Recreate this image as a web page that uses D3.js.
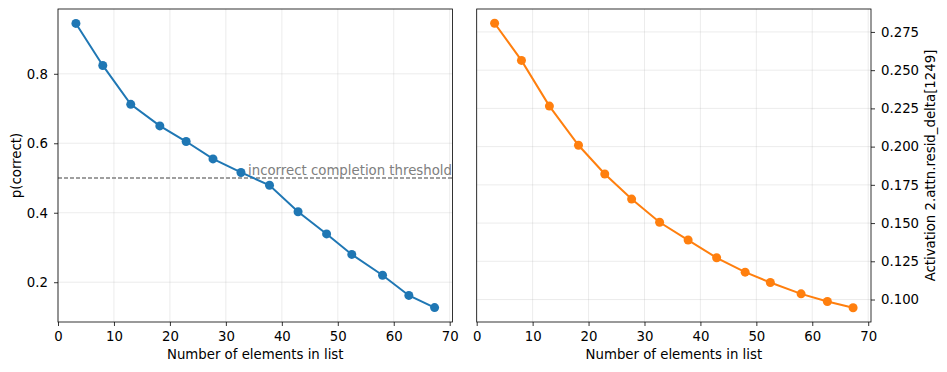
<!DOCTYPE html>
<head>
  <meta charset="utf-8">
  <script src="https://d3js.org/d3.v7.min.js"></script>
  <style>
    body { margin: 0; background: white; }
    text { font-family: "DejaVu Sans", sans-serif; fill: black; }
    .tick text { font-size: 13.3px; }
    .tick line { stroke: black; stroke-width: 0.8; }
    .grid line { stroke: #b0b0b0; stroke-opacity: 0.3; stroke-width: 0.8; }
  </style>
</head>
<body>
<script>
var listLengths = [3.2, 8.0, 13.0, 18.2, 22.9, 27.7, 32.7, 37.8, 42.9, 48.0, 52.5, 58.0, 62.7, 67.3];
var pCorrect = [0.945, 0.824, 0.712, 0.650, 0.605, 0.555, 0.516, 0.479, 0.403, 0.339, 0.280, 0.220, 0.162, 0.127];
var activation = [0.2807, 0.2564, 0.2265, 0.2009, 0.1821, 0.1657, 0.1505, 0.1389, 0.1273, 0.1179, 0.1111, 0.1037, 0.0987, 0.0946];
var xTicks = [0, 10, 20, 30, 40, 50, 60, 70];
var leftTicks = [0.2, 0.4, 0.6, 0.8];
var rightTicks = [0.100, 0.125, 0.150, 0.175, 0.200, 0.225, 0.250, 0.275];
var threshold = 0.5;

var width = 947, height = 372;
var svg = d3.select("body").append("svg")
    .attr("width", width)
    .attr("height", height);

function panel(opts) {
  var x = d3.scaleLinear().domain([0, 70.5]).range([opts.left, opts.right]);
  var y = d3.scaleLinear().domain(opts.yDomain).range([322, 9]);
  var g = svg.append("g");

  // grid
  var grid = g.append("g").attr("class", "grid");
  grid.selectAll(".gx").data(xTicks.filter(function(d) { return x(d) <= opts.right; }))
    .enter().append("line")
      .attr("x1", function(d) { return x(d); }).attr("x2", function(d) { return x(d); })
      .attr("y1", 9).attr("y2", 322);
  grid.selectAll(".gy").data(opts.yTicks)
    .enter().append("line")
      .attr("x1", opts.left).attr("x2", opts.right)
      .attr("y1", function(d) { return y(d); }).attr("y2", function(d) { return y(d); });

  if (opts.extra) opts.extra(g, x, y);

  var line = d3.line()
      .x(function(d, i) { return x(listLengths[i]); })
      .y(function(d) { return y(d); });
  g.append("path")
      .datum(opts.values)
      .attr("fill", "none")
      .attr("stroke", opts.color)
      .attr("stroke-width", 2)
      .attr("d", line);
  g.selectAll(".dot").data(opts.values)
    .enter().append("circle")
      .attr("cx", function(d, i) { return x(listLengths[i]); })
      .attr("cy", function(d) { return y(d); })
      .attr("r", 4.5)
      .attr("fill", opts.color);

  // axes
  g.append("g")
      .attr("transform", "translate(0,322)")
      .call(d3.axisBottom(x).tickValues(xTicks).tickFormat(d3.format("d")).tickSize(4).tickPadding(6))
      .call(function(a) { a.select(".domain").remove(); });
  var yAxis = opts.yRight
      ? d3.axisRight(y).tickValues(opts.yTicks).tickFormat(d3.format(".3f"))
      : d3.axisLeft(y).tickValues(opts.yTicks).tickFormat(d3.format(".1f"));
  g.append("g")
      .attr("transform", "translate(" + (opts.yRight ? opts.right : opts.left) + ",0)")
      .call(yAxis.tickSize(4).tickPadding(6))
      .call(function(a) { a.select(".domain").remove(); });

  g.append("rect")
      .attr("x", opts.left).attr("y", 9)
      .attr("width", opts.right - opts.left).attr("height", 313)
      .attr("fill", "none").attr("stroke", "black").attr("stroke-width", 0.8);

  g.append("text")
      .attr("x", (opts.left + opts.right) / 2).attr("y", 359)
      .attr("text-anchor", "middle").style("font-size", "13.3px")
      .text("Number of elements in list");

  g.append("text")
      .attr("transform", "translate(" + opts.labelX + "," + ((9 + 322) / 2) + ") rotate(-90)")
      .attr("text-anchor", "middle").style("font-size", "13.3px")
      .text(opts.yLabel);
}

panel({
  left: 58, right: 452.5,
  yDomain: [0.0855, 0.9865],
  yTicks: leftTicks,
  values: pCorrect,
  color: "#1f77b4",
  yLabel: "p(correct)",
  labelX: 21,
  extra: function(g, x, y) {
    g.append("line")
        .attr("x1", 58).attr("x2", 452.5)
        .attr("y1", y(threshold)).attr("y2", y(threshold))
        .attr("stroke", "gray").attr("stroke-width", 1.3)
        .attr("stroke-dasharray", "4,2");
    g.append("text")
        .attr("x", 452).attr("y", y(threshold) - 3)
        .attr("text-anchor", "end").style("font-size", "13.3px")
        .style("fill", "gray")
        .text("incorrect completion threshold");
  }
});

panel({
  left: 476.7, right: 871,
  yDomain: [0.0853, 0.2900],
  yTicks: rightTicks,
  values: activation,
  color: "#ff7f0e",
  yRight: true,
  yLabel: "Activation 2.attn.resid_delta[1249]",
  labelX: 935
});
</script>
</body>
